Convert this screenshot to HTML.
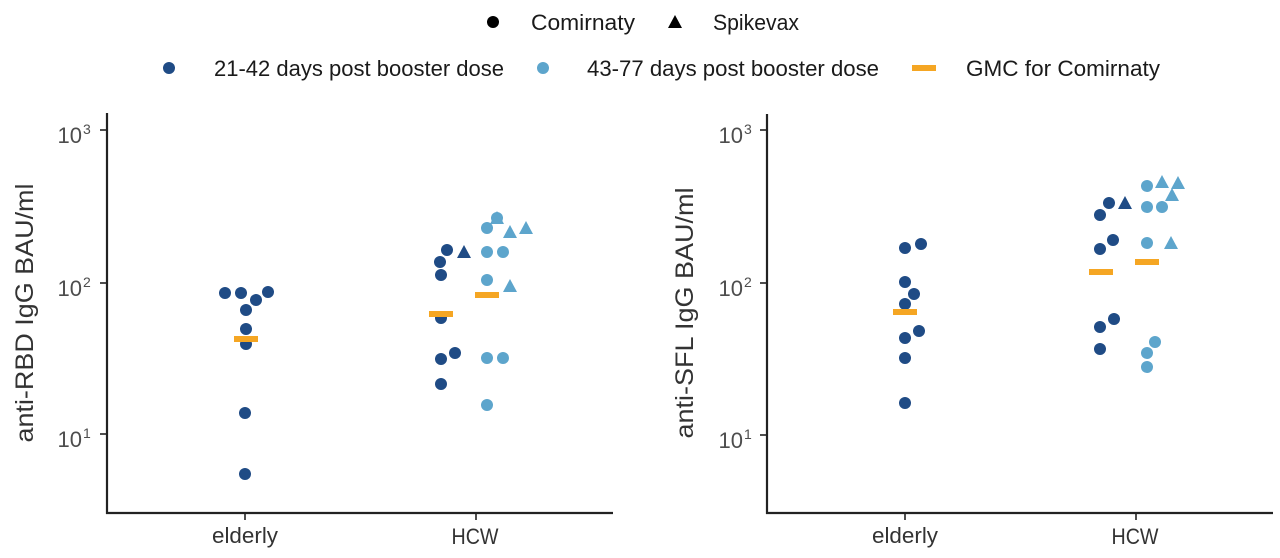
<!DOCTYPE html>
<html>
<head>
<meta charset="utf-8">
<style>
  html, body { margin: 0; padding: 0; background: #ffffff; }
  svg { display: block; }
  text { font-family: "Liberation Sans", sans-serif; }
</style>
</head>
<body>
<svg width="1280" height="558" viewBox="0 0 1280 558" xmlns="http://www.w3.org/2000/svg">
  <rect width="1280" height="558" fill="#ffffff"/>

  <!-- Legend row 1 -->
  <circle cx="493" cy="22" r="6" fill="#000"/>
  <text x="531" y="30" font-size="22" fill="#1a1a1a" textLength="104" lengthAdjust="spacingAndGlyphs">Comirnaty</text>
  <polygon points="668,28 682,28 675,15" fill="#000"/>
  <text x="713" y="30" font-size="22" fill="#1a1a1a" textLength="86" lengthAdjust="spacingAndGlyphs">Spikevax</text>

  <!-- Legend row 2 -->
  <circle cx="169" cy="68" r="6" fill="#1f4b85"/>
  <text x="214" y="76" font-size="22" fill="#1a1a1a" textLength="290" lengthAdjust="spacingAndGlyphs">21-42 days post booster dose</text>
  <circle cx="543" cy="68" r="6" fill="#5da5cc"/>
  <text x="587" y="76" font-size="22" fill="#1a1a1a" textLength="292" lengthAdjust="spacingAndGlyphs">43-77 days post booster dose</text>
  <rect x="912" y="65" width="24" height="6" fill="#f5a623"/>
  <text x="966" y="76" font-size="22" fill="#1a1a1a" textLength="194" lengthAdjust="spacingAndGlyphs">GMC for Comirnaty</text>

  <!-- ============ LEFT PANEL ============ -->
  <g stroke="#222" fill="none">
    <line x1="107" y1="113" x2="107" y2="514" stroke-width="2.2"/>
    <line x1="106" y1="513" x2="613" y2="513" stroke-width="2.2"/>
    <line x1="100" y1="130" x2="107" y2="130" stroke-width="1.6"/>
    <line x1="100" y1="283" x2="107" y2="283" stroke-width="1.6"/>
    <line x1="100" y1="434" x2="107" y2="434" stroke-width="1.6"/>
    <line x1="245" y1="513" x2="245" y2="520" stroke-width="1.6"/>
    <line x1="476" y1="513" x2="476" y2="520" stroke-width="1.6"/>
  </g>
  <g fill="#4d4d4d" font-size="22">
    <text x="82" y="143" text-anchor="end">10</text>
    <text x="83" y="134" font-size="14">3</text>
    <text x="82" y="296" text-anchor="end">10</text>
    <text x="83" y="287" font-size="14">2</text>
    <text x="82" y="447" text-anchor="end">10</text>
    <text x="83" y="438" font-size="14">1</text>
  </g>
  <text x="245" y="543" font-size="22" fill="#333" text-anchor="middle" textLength="66" lengthAdjust="spacingAndGlyphs">elderly</text>
  <text x="475" y="544" font-size="22" fill="#333" text-anchor="middle" textLength="47" lengthAdjust="spacingAndGlyphs">HCW</text>
  <text transform="translate(33,313) rotate(-90)" font-size="25" fill="#333" text-anchor="middle" textLength="259" lengthAdjust="spacingAndGlyphs">anti-RBD IgG BAU/ml</text>

  <!-- elderly left -->
  <g fill="#1f4b85">
    <circle cx="225" cy="293" r="6"/>
    <circle cx="241" cy="293" r="6"/>
    <circle cx="268" cy="292" r="6"/>
    <circle cx="256" cy="300" r="6"/>
    <circle cx="246" cy="310" r="6"/>
    <circle cx="246" cy="329" r="6"/>
    <circle cx="246" cy="344" r="6"/>
    <circle cx="245" cy="413" r="6"/>
    <circle cx="245" cy="474" r="6"/>
  </g>
  <rect x="234" y="336" width="24" height="6" fill="#f5a623"/>

  <!-- HCW left dark -->
  <g fill="#1f4b85">
    <circle cx="447" cy="250" r="6"/>
    <circle cx="440" cy="262" r="6"/>
    <circle cx="441" cy="275" r="6"/>
    <circle cx="441" cy="318" r="6"/>
    <circle cx="455" cy="353" r="6"/>
    <circle cx="441" cy="359" r="6"/>
    <circle cx="441" cy="384" r="6"/>
    <polygon points="457,258 471,258 464,245"/>
  </g>
  <rect x="429" y="311" width="24" height="6" fill="#f5a623"/>

  <!-- HCW left light -->
  <g fill="#5da5cc">
    <circle cx="487" cy="228" r="6"/>
    <circle cx="497" cy="218" r="6"/>
    <polygon points="490,224 504,224 497,211"/>
    <circle cx="487" cy="252" r="6"/>
    <circle cx="503" cy="252" r="6"/>
    <circle cx="487" cy="280" r="6"/>
    <circle cx="487" cy="358" r="6"/>
    <circle cx="503" cy="358" r="6"/>
    <circle cx="487" cy="405" r="6"/>
    <polygon points="503,238 517,238 510,225"/>
    <polygon points="519,234 533,234 526,221"/>
    <polygon points="503,292 517,292 510,279"/>
  </g>
  <rect x="475" y="292" width="24" height="6" fill="#f5a623"/>

  <!-- ============ RIGHT PANEL ============ -->
  <g stroke="#222" fill="none">
    <line x1="767" y1="114" x2="767" y2="514" stroke-width="2.2"/>
    <line x1="766" y1="513" x2="1273" y2="513" stroke-width="2.2"/>
    <line x1="760" y1="130" x2="767" y2="130" stroke-width="1.6"/>
    <line x1="760" y1="283" x2="767" y2="283" stroke-width="1.6"/>
    <line x1="760" y1="435" x2="767" y2="435" stroke-width="1.6"/>
    <line x1="905" y1="513" x2="905" y2="520" stroke-width="1.6"/>
    <line x1="1136" y1="513" x2="1136" y2="520" stroke-width="1.6"/>
  </g>
  <g fill="#4d4d4d" font-size="22">
    <text x="743" y="143" text-anchor="end">10</text>
    <text x="744" y="134" font-size="14">3</text>
    <text x="743" y="296" text-anchor="end">10</text>
    <text x="744" y="287" font-size="14">2</text>
    <text x="743" y="448" text-anchor="end">10</text>
    <text x="744" y="439" font-size="14">1</text>
  </g>
  <text x="905" y="543" font-size="22" fill="#333" text-anchor="middle" textLength="66" lengthAdjust="spacingAndGlyphs">elderly</text>
  <text x="1135" y="544" font-size="22" fill="#333" text-anchor="middle" textLength="47" lengthAdjust="spacingAndGlyphs">HCW</text>
  <text transform="translate(693,313) rotate(-90)" font-size="25" fill="#333" text-anchor="middle" textLength="251" lengthAdjust="spacingAndGlyphs">anti-SFL IgG BAU/ml</text>

  <!-- elderly right -->
  <g fill="#1f4b85">
    <circle cx="905" cy="248" r="6"/>
    <circle cx="921" cy="244" r="6"/>
    <circle cx="905" cy="282" r="6"/>
    <circle cx="914" cy="294" r="6"/>
    <circle cx="905" cy="304" r="6"/>
    <circle cx="919" cy="331" r="6"/>
    <circle cx="905" cy="338" r="6"/>
    <circle cx="905" cy="358" r="6"/>
    <circle cx="905" cy="403" r="6"/>
  </g>
  <rect x="893" y="309" width="24" height="6" fill="#f5a623"/>

  <!-- HCW right dark -->
  <g fill="#1f4b85">
    <circle cx="1100" cy="215" r="6"/>
    <circle cx="1109" cy="203" r="6"/>
    <circle cx="1100" cy="249" r="6"/>
    <circle cx="1113" cy="240" r="6"/>
    <circle cx="1114" cy="319" r="6"/>
    <circle cx="1100" cy="327" r="6"/>
    <circle cx="1100" cy="349" r="6"/>
    <polygon points="1118,209 1132,209 1125,196"/>
  </g>
  <rect x="1089" y="269" width="24" height="6" fill="#f5a623"/>

  <!-- HCW right light -->
  <g fill="#5da5cc">
    <circle cx="1147" cy="186" r="6"/>
    <circle cx="1147" cy="207" r="6"/>
    <circle cx="1162" cy="207" r="6"/>
    <circle cx="1147" cy="243" r="6"/>
    <circle cx="1155" cy="342" r="6"/>
    <circle cx="1147" cy="353" r="6"/>
    <circle cx="1147" cy="367" r="6"/>
    <polygon points="1155,188 1169,188 1162,175"/>
    <polygon points="1171,189 1185,189 1178,176"/>
    <polygon points="1165,201 1179,201 1172,188"/>
    <polygon points="1164,249 1178,249 1171,236"/>
  </g>
  <rect x="1135" y="259" width="24" height="6" fill="#f5a623"/>
</svg>
</body>
</html>
